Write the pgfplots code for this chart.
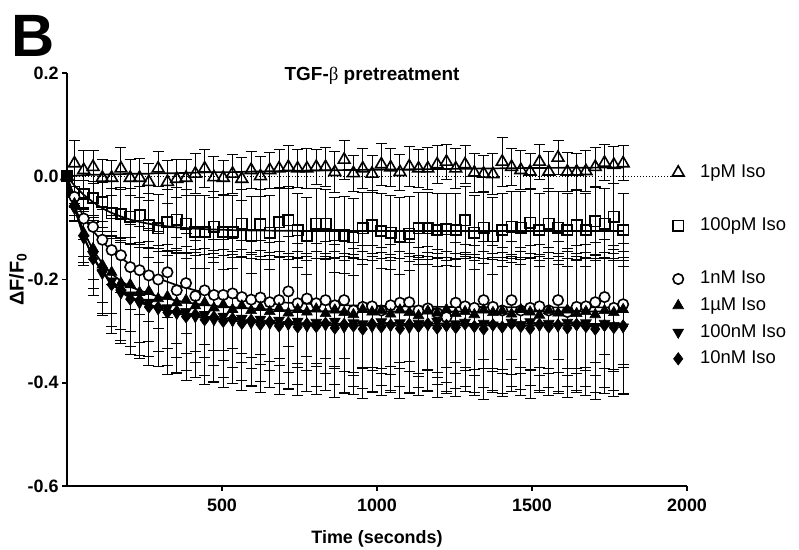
\documentclass[border=0pt]{standalone}
\usepackage{fontspec}
\setmainfont{Liberation Sans}
\newfontfamily\serifgreek{Liberation Serif}
\usepackage{pgfplots}
\usepackage{pgfplotstable}
\pgfplotsset{compat=1.18}

\pgfplotstableread{
t a ea b eb c ec d ed f ef g eg
0 0 0 0 0 0 0 0 0 0 0 0 0
24 .025 .045 -.030 .022 -.040 .020 -.053 .022 -.062 .026 -.058 .027
54 .012 .038 -.034 .026 -.082 .040 -.110 .046 -.120 .052 -.115 .052
84 .018 .032 -.043 .032 -.098 .048 -.140 .060 -.152 .066 -.160 .071
114 -.003 .036 -.050 .038 -.123 .058 -.172 .073 -.188 .082 -.183 .083
144 -.003 .034 -.072 .048 -.143 .067 -.186 .080 -.203 .088 -.210 .094
174 .015 .040 -.073 .052 -.153 .072 -.207 .089 -.226 .098 -.220 .099
204 -.003 .035 -.078 .055 -.176 .082 -.210 .091 -.230 .100 -.238 .107
234 -.003 .038 -.076 .057 -.182 .085 -.225 .097 -.245 .107 -.240 .108
264 -.011 .036 -.095 .062 -.192 .090 -.223 .097 -.244 .106 -.253 .114
294 .015 .034 -.101 .066 -.200 .094 -.237 .103 -.257 .112 -.254 .115
324 -.011 .041 -.089 .064 -.186 .088 -.233 .101 -.255 .111 -.264 .119
354 -.005 .037 -.084 .063 -.221 .103 -.245 .106 -.266 .116 -.262 .118
384 -.003 .035 -.092 .067 -.207 .097 -.240 .104 -.262 .114 -.272 .123
414 .005 .039 -.108 .071 -.232 .108 -.251 .109 -.272 .118 -.268 .121
444 .015 .036 -.108 .070 -.221 .104 -.245 .106 -.268 .117 -.278 .126
474 -.002 .040 -.098 .068 -.230 .108 -.255 .111 -.278 .121 -.273 .124
504 -.003 .034 -.108 .072 -.230 .108 -.249 .108 -.271 .118 -.281 .128
534 .005 .038 -.108 .071 -.227 .107 -.258 .112 -.280 .122 -.276 .125
564 -.005 .042 -.092 .066 -.234 .110 -.251 .109 -.275 .120 -.285 .129
594 .012 .036 -.114 .074 -.239 .112 -.260 .113 -.284 .124 -.279 .127
624 .000 .039 -.093 .068 -.235 .110 -.254 .110 -.277 .121 -.287 .131
654 .012 .035 -.109 .072 -.244 .115 -.262 .114 -.285 .124 -.282 .128
684 .015 .037 -.089 .066 -.240 .113 -.256 .111 -.279 .122 -.290 .132
714 .018 .041 -.085 .065 -.223 .106 -.265 .115 -.287 .125 -.284 .129
744 .015 .036 -.105 .071 -.246 .116 -.258 .112 -.281 .123 -.292 .133
774 .015 .038 -.116 .075 -.237 .112 -.263 .114 -.290 .127 -.286 .130
804 .018 .034 -.092 .068 -.246 .116 -.257 .112 -.283 .124 -.291 .132
834 .018 .037 -.092 .067 -.240 .113 -.266 .116 -.288 .126 -.285 .130
864 .008 .040 -.114 .073 -.250 .118 -.259 .113 -.281 .123 -.294 .134
894 .032 .038 -.114 .074 -.240 .113 -.264 .115 -.292 .128 -.287 .131
924 .006 .035 -.118 .075 -.260 .121 -.268 .117 -.284 .124 -.290 .132
954 .015 .039 -.101 .070 -.253 .119 -.258 .112 -.286 .125 -.296 .135
984 .005 .036 -.095 .068 -.252 .118 -.263 .114 -.291 .127 -.286 .130
1014 .023 .040 -.106 .072 -.260 .122 -.260 .113 -.282 .123 -.292 .133
1044 .017 .037 -.109 .071 -.250 .118 -.267 .116 -.289 .126 -.288 .131
1074 .008 .035 -.116 .074 -.245 .116 -.259 .113 -.284 .124 -.295 .135
1104 .019 .038 -.111 .072 -.244 .115 -.264 .115 -.293 .128 -.287 .131
1134 .015 .036 -.101 .069 -.260 .122 -.270 .117 -.285 .124 -.291 .133
1164 .015 .041 -.101 .070 -.256 .120 -.261 .114 -.288 .126 -.286 .130
1194 .023 .037 -.104 .071 -.265 .124 -.265 .115 -.281 .123 -.294 .134
1224 .028 .034 -.103 .070 -.273 .127 -.258 .112 -.290 .127 -.289 .132
1254 .015 .039 -.104 .071 -.245 .116 -.266 .116 -.286 .125 -.293 .134
1284 .023 .036 -.085 .066 -.252 .119 -.262 .114 -.283 .124 -.286 .130
1314 .007 .038 -.109 .072 -.255 .120 -.268 .117 -.291 .127 -.291 .133
1344 .005 .035 -.100 .069 -.240 .114 -.259 .113 -.285 .125 -.296 .136
1374 .004 .040 -.116 .074 -.253 .119 -.264 .115 -.288 .126 -.288 .131
1404 .028 .047 -.104 .071 -.260 .122 -.261 .114 -.292 .128 -.292 .134
1434 .018 .036 -.098 .069 -.240 .114 -.267 .116 -.283 .124 -.286 .130
1464 .012 .038 -.100 .070 -.260 .122 -.258 .112 -.287 .126 -.291 .133
1494 .009 .035 -.090 .067 -.255 .120 -.263 .114 -.282 .123 -.295 .135
1524 .028 .034 -.104 .071 -.252 .119 -.269 .117 -.289 .126 -.287 .131
1554 .009 .039 -.092 .068 -.260 .122 -.260 .113 -.285 .125 -.292 .133
1584 .036 .033 -.100 .070 -.240 .114 -.265 .115 -.290 .127 -.288 .132
1614 .009 .038 -.104 .071 -.263 .123 -.259 .113 -.283 .124 -.294 .134
1644 .009 .036 -.095 .069 -.253 .119 -.266 .116 -.288 .126 -.287 .131
1674 .010 .040 -.104 .071 -.252 .119 -.262 .114 -.284 .124 -.291 .133
1704 .018 .037 -.087 .066 -.244 .116 -.268 .117 -.291 .127 -.296 .136
1734 .026 .035 -.092 .068 -.234 .111 -.260 .113 -.285 .125 -.289 .132
1764 .022 .036 -.078 .064 -.255 .120 -.264 .115 -.289 .126 -.293 .134
1794 .025 .034 -.104 .071 -.248 .117 -.258 .112 -.292 .128 -.290 .132
}\data

\pgfplotstableread{
t fa fb fc fd ff fg
0 0 0 0 0 0 0
24 .001 -.018 -.040 -.055 -.060 -.061
54 .002 -.036 -.080 -.107 -.117 -.118
84 .003 -.050 -.106 -.143 -.156 -.158
114 .003 -.062 -.127 -.169 -.184 -.186
144 .004 -.071 -.144 -.189 -.206 -.208
174 .004 -.078 -.158 -.203 -.222 -.224
204 .005 -.084 -.171 -.214 -.233 -.236
234 .005 -.0885 -.181 -.221 -.242 -.244
264 .005 -.092 -.190 -.227 -.248 -.251
294 .006 -.095 -.198 -.233 -.254 -.257
354 .006 -.099 -.211 -.241 -.263 -.266
414 .007 -.1016 -.221 -.247 -.269 -.272
474 .008 -.1032 -.229 -.251 -.274 -.277
534 .008 -.1043 -.235 -.254 -.277 -.280
594 .009 -.105 -.239 -.256 -.280 -.283
684 .010 -.1055 -.244 -.259 -.283 -.286
774 .011 -.106 -.247 -.261 -.285 -.288
900 .012 -.106 -.250 -.262 -.286 -.289
1200 .014 -.106 -.253 -.262 -.286 -.289
1500 .016 -.106 -.254 -.262 -.286 -.289
1794 .017 -.106 -.254 -.262 -.286 -.289
}\fits

\pgfplotsset{
  ebar/.style={error bars/.cd, y dir=both, y explicit,
    error bar style={line width=0.9bp, black},
    error mark options={rotate=90, line width=0.9bp, mark size=5.5bp, black}},
  fitline/.style={forget plot, no marks, black, line width=1.7bp},
  mA/.style={mark=triangle, mark size=6.8bp, mark options={fill=white, draw=black, line width=1.6bp}},
  mB/.style={mark=square, mark size=5.2bp, mark options={fill=white, draw=black, line width=1.6bp}},
  mC/.style={mark=*, mark size=5.2bp, mark options={fill=white, draw=black, line width=1.6bp}},
  mD/.style={mark=triangle*, mark size=6.2bp, mark options={fill=black, draw=black, line width=0.6bp}},
  mF/.style={mark=triangle*, mark size=6.2bp, mark options={fill=black, draw=black, line width=0.6bp, rotate=180}},
  mG/.style={mark=diamond*, mark size=6.2bp, mark options={fill=black, draw=black, line width=0.6bp}},
}

\begin{document}
\begin{tikzpicture}
\useasboundingbox (0,0) rectangle (799bp,550bp);
\begin{axis}[
  at={(67bp,64bp)}, anchor=south west,
  scale only axis, width=620bp, height=413bp,
  xmin=0, xmax=2000, ymin=-0.6, ymax=0.2,
  axis x line*=bottom, axis y line*=left,
  axis line style={line width=1.8bp, black},
  xtick={500,1000,1500,2000}, ytick={-0.6,-0.4,-0.2,0,0.2},
  tick align=outside, major tick length=5bp,
  tick style={line width=1.5bp, black},
  ticklabel style={font=\bfseries\fontsize{18}{18}\selectfont},
  /pgf/number format/assume math mode=true,
  yticklabel style={/pgf/number format/.cd, fixed, fixed zerofill, precision=1},
  xticklabel style={yshift=-4bp, /pgf/number format/.cd, fixed, 1000 sep={}},
  clip=false,
  legend cell align=left,
  legend style={at={(0.9718,0.781)}, anchor=north west, draw=none, fill=none,
    inner sep=0pt, font=\fontsize{18.5}{18.5}\selectfont, row sep=8.7pt,
    nodes={inner sep=0pt, text height=14pt, text depth=4pt},
    /tikz/every odd column/.append style={column sep=16bp}},
]
% reference line at zero
\addplot[forget plot, black, line width=1bp, dash pattern=on 1bp off 2bp] coordinates {(0,0) (1985,0)};

% data with error bars
\addplot[forget plot, only marks, mA, ebar] table[x=t, y=a, y error=ea] {\data};
\addplot[forget plot, only marks, mB, ebar] table[x=t, y=b, y error=eb] {\data};
\addplot[forget plot, only marks, mC, ebar] table[x=t, y=c, y error=ec] {\data};
\addplot[forget plot, only marks, mD, ebar] table[x=t, y=d, y error=ed] {\data};
\addplot[forget plot, only marks, mF, ebar] table[x=t, y=f, y error=ef] {\data};
\addplot[forget plot, only marks, mG, ebar] table[x=t, y=g, y error=eg] {\data};

% fitted curves
\addplot[fitline] table[x=t, y=fa] {\fits};
\addplot[fitline] table[x=t, y=fb] {\fits};
\addplot[fitline] table[x=t, y=fc] {\fits};
\addplot[fitline] table[x=t, y=fd] {\fits};
\addplot[fitline] table[x=t, y=ff] {\fits};
\addplot[fitline] table[x=t, y=fg] {\fits};

% legend
\addlegendimage{only marks, mA}\addlegendentry{1pM Iso}
\addlegendimage{empty legend}\addlegendentry{}
\addlegendimage{only marks, mB}\addlegendentry{100pM Iso}
\addlegendimage{empty legend}\addlegendentry{}
\addlegendimage{only marks, mC}\addlegendentry{1nM Iso}
\addlegendimage{only marks, mD}\addlegendentry{1µM Iso}
\addlegendimage{only marks, mF}\addlegendentry{100nM Iso}
\addlegendimage{only marks, mG}\addlegendentry{10nM Iso}

% titles and labels
\node[anchor=base, font=\bfseries\fontsize{19}{19}\selectfont] at (rel axis cs:0.492,0.983)
  {TGF-{\serifgreek\mdseries β} pretreatment};
\node[anchor=base, font=\bfseries\fontsize{18}{18}\selectfont] at (rel axis cs:0.5,-0.1404)
  {Time (seconds)};
\node[anchor=center, rotate=90, font=\bfseries\fontsize{20}{20}\selectfont] at (rel axis cs:-0.079,0.5)
  {ΔF/F\textsubscript{0}};
\end{axis}
\node[anchor=center, inner sep=0pt, font=\bfseries\fontsize{60}{60}\selectfont] at (33bp,514bp) {B};
\end{tikzpicture}
\end{document}
